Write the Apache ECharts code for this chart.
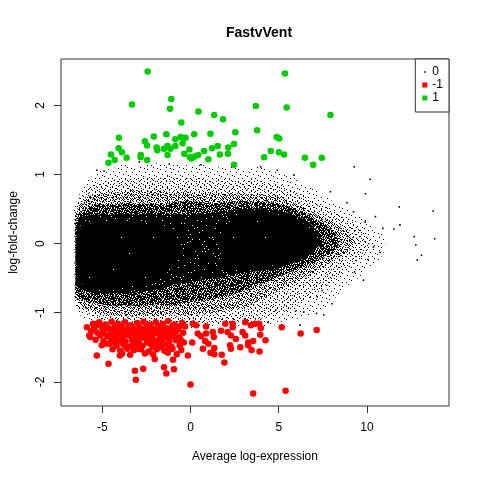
<!DOCTYPE html>
<html>
<head>
<meta charset="utf-8">
<script src="https://cdn.jsdelivr.net/npm/echarts@6/dist/echarts.min.js"></script>
<style>
  html, body { margin: 0; padding: 0; background: #fff; }
  #chart { width: 480px; height: 480px; }
</style>
</head>
<body>
<div id="chart"></div>
<script>
var xTicks = [-5, 0, 5, 10],
    yTicks = [-2, -1, 0, 1, 2];

// outlines of the black cloud (status 0), from the faint edge inwards
var cloudEdge = [[-6.55,-0.95],[-6.6,0.5],[-6.2,0.78],[-5.7,0.95],[-5.2,1.05],[-4.5,1.08],[-3.8,1.15],[-3,1.12],[-2.3,1.18],[-1.5,1.14],[-0.8,1.17],[0,1.12],[0.8,1.15],[1.6,1.1],[2.4,1.13],[3.2,1.08],[4,1.12],[4.8,1.06],[5.6,1.0],[6.4,0.86],[7.2,0.78],[8,0.62],[8.8,0.52],[9.6,0.4],[10.3,0.28],[10.9,0.12],[11.1,-0.05],[10.7,-0.25],[10,-0.38],[9.3,-0.55],[8.5,-0.7],[7.8,-0.9],[7,-1.0],[6.2,-1.08],[5.4,-1.12],[4.6,-1.18],[3.8,-1.2],[3,-1.2],[2,-1.22],[1,-1.2],[0,-1.22],[-1,-1.2],[-2,-1.22],[-3,-1.2],[-4,-1.2],[-5,-1.18],[-5.7,-1.12],[-6.2,-1.05]];
var cloudSparse = [[-6.57,-0.85],[-6.58,0.45],[-6.3,0.66],[-5.8,0.8],[-5.2,0.88],[-4.6,0.9],[-4,0.95],[-3.3,0.93],[-2.6,0.97],[-1.9,0.94],[-1.2,0.98],[-0.5,0.93],[0.3,0.96],[1.1,0.92],[1.9,0.95],[2.7,0.9],[3.5,0.93],[4.3,0.88],[5.1,0.85],[5.9,0.76],[6.7,0.66],[7.5,0.55],[8.3,0.44],[9.1,0.33],[9.8,0.2],[10.2,0.05],[10.0,-0.12],[9.4,-0.27],[8.6,-0.42],[7.8,-0.6],[7,-0.75],[6.2,-0.88],[5.4,-0.98],[4.6,-1.06],[3.8,-1.1],[3,-1.13],[2,-1.15],[1,-1.15],[0,-1.15],[-1,-1.15],[-2,-1.14],[-3,-1.14],[-4,-1.13],[-5,-1.1],[-5.7,-1.05],[-6.25,-0.97]];
var cloudMid = [[-6.55,-0.78],[-6.55,0.4],[-6.35,0.55],[-5.9,0.66],[-5.3,0.72],[-4.6,0.75],[-3.9,0.74],[-3.2,0.78],[-2.5,0.75],[-1.8,0.77],[-1.1,0.74],[-0.4,0.76],[0.3,0.73],[1,0.75],[1.8,0.72],[2.6,0.74],[3.4,0.71],[4.2,0.72],[5,0.68],[5.8,0.6],[6.6,0.5],[7.4,0.4],[8.2,0.3],[8.9,0.18],[9.3,0.05],[9.1,-0.08],[8.5,-0.2],[7.8,-0.3],[7,-0.42],[6.2,-0.52],[5.4,-0.62],[4.6,-0.74],[3.8,-0.84],[3,-0.92],[2.2,-0.97],[1.4,-1.0],[0.6,-1.02],[-0.2,-1.04],[-1,-1.02],[-1.8,-1.05],[-2.6,-1.03],[-3.4,-1.06],[-4.2,-1.04],[-5,-1.02],[-5.6,-0.98],[-6.1,-0.92]];
var cloudDense = [[-6.52,-0.7],[-6.52,0.3],[-6.3,0.45],[-5.8,0.54],[-5.1,0.57],[-4.4,0.56],[-3.7,0.59],[-3,0.57],[-2.3,0.58],[-1.6,0.56],[-0.9,0.6],[-0.2,0.62],[0.5,0.6],[1.2,0.58],[2,0.6],[2.8,0.62],[3.6,0.6],[4.4,0.61],[5.2,0.56],[6,0.5],[6.8,0.4],[7.6,0.28],[8.2,0.15],[8.5,0.02],[8.2,-0.1],[7.5,-0.2],[6.8,-0.3],[6,-0.38],[5.2,-0.46],[4.4,-0.55],[3.6,-0.62],[2.8,-0.7],[2,-0.76],[1.2,-0.8],[0.4,-0.84],[-0.4,-0.86],[-1.2,-0.9],[-2,-0.88],[-2.8,-0.91],[-3.6,-0.89],[-4.4,-0.9],[-5.2,-0.87],[-5.8,-0.84],[-6.3,-0.8]];
var cloudCore = [[-6.5,-0.6],[-6.5,0.22],[-6.3,0.38],[-5.6,0.42],[-4.8,0.41],[-4,0.43],[-3.2,0.42],[-2.4,0.43],[-1.6,0.41],[-0.8,0.42],[0,0.41],[0.8,0.43],[1.6,0.45],[2.4,0.49],[3.2,0.5],[4,0.51],[4.8,0.49],[5.6,0.44],[6.3,0.37],[6.9,0.27],[7.3,0.12],[7.3,-0.02],[6.9,-0.14],[6.2,-0.24],[5.4,-0.32],[4.6,-0.37],[3.8,-0.4],[3,-0.42],[2.2,-0.45],[1.4,-0.5],[0.6,-0.52],[-0.2,-0.56],[-1,-0.6],[-1.8,-0.66],[-2.6,-0.69],[-3.4,-0.72],[-4.2,-0.71],[-5,-0.73],[-5.7,-0.7],[-6.2,-0.67]];
var blobLeft = [[-6.45,-0.5],[-6.45,0.15],[-6.2,0.28],[-5.2,0.3],[-4,0.31],[-2.8,0.29],[-1.6,0.27],[-0.9,0.2],[-0.7,0],[-0.9,-0.3],[-1.6,-0.5],[-2.8,-0.6],[-4,-0.63],[-5.2,-0.64],[-6.1,-0.6]];
var blobRight = [[1.6,-0.1],[1.9,0.25],[2.6,0.4],[3.6,0.44],[4.6,0.44],[5.6,0.38],[6.5,0.28],[7.1,0.14],[7.2,0.0],[6.8,-0.12],[6,-0.22],[5,-0.3],[4,-0.34],[3,-0.36],[2.2,-0.3]];

// lone black points outside the cloud
var zeroPts = [[9.28,1.11],[10.18,0.93],[9.92,0.72],[7.93,0.75],[8.87,0.59],[10.48,0.39],[10.9,0.22],[11.53,0.21],[11.83,0.53],[13.75,0.47],[12.68,0.1],[12.77,-0.02],[13.84,0.07],[13.09,-0.17],[12.85,-0.24],[11.87,0.27],[10.74,-0.13],[10.05,-0.23],[9.8,-0.53],[9.3,-0.41],[7.46,-0.68],[7.18,-0.77],[8.02,-0.87],[7.55,-1.03],[7.14,-1.01],[6.42,-0.99],[6.2,-1.18],[5.95,-0.98],[4.83,-0.96],[4.39,-1.14],[3.98,1.11],[4.92,1.06],[5.86,0.99],[9.24,0.46],[9.9,0.31],[10.37,-0.05],[-5.31,1.06],[-5.69,0.68],[-4.9,1.05],[-2.9,1.18],[-1.2,1.15],[0.6,1.14],[2.5,1.12]];

// status -1 (down)
var downPts = [[-5.52,-1.16],[-5.18,-1.14],[-4.83,-1.17],[-4.47,-1.13],[-4.12,-1.16],[-3.71,-1.14],[-3.38,-1.18],[-3.02,-1.15],[-2.66,-1.13],[-2.31,-1.17],[-1.97,-1.14],[-1.58,-1.16],[-1.27,-1.12],[-0.92,-1.17],[-0.48,-1.15],
  [-5.46,-1.22],[-5.02,-1.21],[-4.62,-1.23],[-4.28,-1.2],[-3.88,-1.22],[-3.52,-1.19],[-3.18,-1.24],[-2.88,-1.21],[-2.49,-1.2],[-2.12,-1.23],[-1.79,-1.2],[-1.41,-1.22],[-1.08,-1.21],[-0.72,-1.24],[-0.31,-1.2],
  [-5.62,-1.27],[-5.28,-1.29],[-4.91,-1.26],[-4.41,-1.28],[-4.02,-1.27],[-3.63,-1.3],[-3.29,-1.26],[-2.79,-1.28],[-2.41,-1.27],[-1.92,-1.29],[-1.52,-1.26],[-1.19,-1.3],[-0.81,-1.27],[-0.42,-1.29],
  [-5.68,-1.35],[-5.12,-1.33],[-4.71,-1.34],[-4.22,-1.32],[-3.81,-1.36],[-3.47,-1.33],[-3.08,-1.35],[-2.62,-1.32],[-2.18,-1.34],[-1.71,-1.33],[-1.33,-1.36],[-0.98,-1.33],[-0.62,-1.35],
  [-5.38,-1.39],[-4.93,-1.41],[-4.52,-1.38],[-4.08,-1.4],[-3.68,-1.42],[-3.31,-1.39],[-2.92,-1.41],[-2.52,-1.38],[-2.02,-1.42],[-1.62,-1.39],[-1.21,-1.41],[-0.83,-1.4],[-0.38,-1.43],
  [-5.03,-1.47],[-4.61,-1.45],[-4.19,-1.48],[-3.79,-1.46],[-3.48,-1.49],[-3.01,-1.46],[-2.71,-1.48],[-2.28,-1.45],[-1.83,-1.47],[-1.42,-1.46],[-1.09,-1.49],[-0.61,-1.47],
  [-4.42,-1.53],[-3.98,-1.55],[-3.58,-1.52],[-3.21,-1.54],[-2.81,-1.53],[-2.38,-1.56],[-1.91,-1.53],[-1.48,-1.55],[-1.02,-1.52],[-0.52,-1.54],
  [-3.88,-1.59],[-3.42,-1.61],[-2.58,-1.59],[-2.12,-1.6],[-1.29,-1.58],[-0.78,-1.6],
  [-4.35,-1.24],[-3.95,-1.31],[-3.58,-1.25],[-3.15,-1.3],[-2.75,-1.24],[-2.35,-1.31],[-1.95,-1.25],[-1.65,-1.3],[-1.35,-1.25],[-3.85,-1.44],[-3.25,-1.45],[-2.45,-1.43],[-1.75,-1.43],[-1.25,-1.34],
  [-5.35,-1.18],[-4.98,-1.3],[-4.75,-1.2],[-4.55,-1.31],[-4.25,-1.36],[-3.98,-1.19],[-3.75,-1.28],[-3.45,-1.22],[-3.22,-1.4],[-2.98,-1.27],[-2.78,-1.36],[-2.55,-1.24],[-2.25,-1.38],[-2.05,-1.3],[-1.88,-1.4],[-1.68,-1.22],[-1.45,-1.32],[-1.15,-1.24],[-0.88,-1.36],[-0.65,-1.2],[-0.55,-1.4],[-4.85,-1.45],[-4.35,-1.43],[-3.65,-1.5],[-2.95,-1.52],[-2.15,-1.5],[-1.65,-1.5],[-1.2,-1.53],
  [-5.87,-1.21],[-5.74,-1.33],[-5.31,-1.62],[-4.65,-1.74],[-4.0,-1.62],[-3.15,-1.84],[-3.1,-1.97],[-2.68,-1.81],[-2.03,-1.67],[-1.5,-1.79],[-1.37,-1.88],[-0.94,-1.82],[-0.99,-1.68],[0.0,-2.04],[-0.15,-1.62],
  [0.13,-1.16],[0.32,-1.18],[0.41,-1.3],[0.6,-1.34],[0.88,-1.2],[0.88,-1.3],[0.83,-1.41],[1.01,-1.45],[1.26,-1.28],[1.32,-1.35],[0.1,-1.43],[0.7,-1.52],[1.35,-1.51],[1.13,-1.58],[1.35,-1.6],[1.77,-1.61],[1.92,-1.72],[1.73,-1.26],[1.97,-1.16],[2.1,-1.28],[2.39,-1.16],[2.39,-1.21],[2.29,-1.33],[2.57,-1.38],[2.24,-1.47],[2.29,-1.52],[2.82,-1.5],[2.95,-1.28],[3.1,-1.33],[3.1,-1.14],[3.42,-1.18],[3.65,-1.16],[3.89,-1.16],[3.98,-1.22],[3.95,-1.32],[3.27,-1.43],[3.55,-1.41],[3.27,-1.47],[4.25,-1.4],[3.46,-1.54],[3.91,-1.56],[5.17,-1.21],[6.24,-1.3],[7.15,-1.25],[3.55,-2.17],[5.39,-2.13]];

// status 1 (up)
var upPts = [[-2.43,2.49],[-3.32,2.01],[-1.09,2.09],[-1.16,1.95],[0.45,1.91],[1.34,1.86],[1.84,1.8],[-0.52,1.75],[2.54,1.61],[-4.06,1.53],[-2.59,1.48],[-2.08,1.55],[-1.37,1.58],[-0.86,1.51],[-0.56,1.54],[-0.28,1.53],[-0.45,1.45],[0.21,1.58],[1.13,1.59],[-2.46,1.42],[-4.07,1.38],[-3.89,1.32],[-4.51,1.29],[-4.3,1.21],[-4.65,1.17],[-3.62,1.24],[-2.82,1.28],[-2.83,1.25],[-2.46,1.21],[-1.92,1.39],[-1.88,1.35],[-1.5,1.37],[-1.3,1.41],[-1.14,1.37],[-1.3,1.28],[-0.86,1.41],[-0.35,1.3],[-0.06,1.36],[-0.03,1.25],[0.06,1.23],[0.23,1.26],[0.43,1.28],[0.77,1.34],[1.01,1.22],[1.22,1.38],[1.54,1.41],[1.66,1.29],[2.14,1.39],[2.12,1.3],[2.46,1.44],[2.46,1.14],
  [5.35,2.46],[3.7,1.99],[5.45,1.97],[7.93,1.86],[3.77,1.64],[4.88,1.54],[5.03,1.52],[4.55,1.34],[5.01,1.32],[5.3,1.29],[4.17,1.25],[6.48,1.24],[7.44,1.24],[6.95,1.14]];

var FONT = '"Liberation Sans", Arial, sans-serif';

// pixel masks for the speckled fill of the cloud ('#' = black pixel)
function makeTile(rows) {
    var c = document.createElement('canvas');
    c.width = rows[0].length;
    c.height = rows.length;
    var ctx = c.getContext('2d');
    ctx.fillStyle = '#000';
    rows.forEach(function(r, y) {
        for (var x = 0; x < r.length; x++) if (r[x] === '#') ctx.fillRect(x, y, 1, 1);
    });
    return { image: c, repeat: 'repeat' };
}
var tiles = [
    makeTile(["....#........", ".............", ".........#...", "..#..........", ".............",
              "......#......", "...........#.", "#............", ".............", "....#...#....",
              ".............", "..........#..", ".#..........."]),
    makeTile(["..#........", "......#....", "#..........", "....#....#.", "...........",
              ".#.....#...", "...........", "....#....#.", "#..........", "......#....", "..#.....#.."]),
    makeTile(["#...#....", "..#..#.#.", "....#.#..", ".#.....#.", "...#.#...",
              "#......#.", "..#.#...#", ".....#.#.", ".#.#....#"]),
    makeTile(["##.#.##.", ".###.#.#", "#.#.##.#", "##..#.##", ".#.##.#.",
              "#.##..##", "##.#.#.#", ".#.##.#."]),
    makeTile(["#######", "###.###", "#######", "#.#####", "#####.#", "#######", "##.###."]),
    makeTile(["########", "###.####", "########", "######.#", "########", "#.######", "########", "####.###"])
];

function cloudSeries(points, tile) {
    return {
        type: 'custom',
        silent: true,
        data: points,
        renderItem: function(params, api) {
            if (params.dataIndex !== 0) return null;
            return {
                type: 'polygon',
                shape: { points: points.map(function(p) { return api.coord(p); }) },
                style: { fill: tile }
            };
        }
    };
}

var chart = echarts.init(document.getElementById('chart'), null, { renderer: 'canvas' });
chart.setOption({
    animation: false,
    backgroundColor: '#fff',
    title: {
        text: 'FastvVent', left: 254, top: 21, textAlign: 'center',
        textStyle: { fontFamily: FONT, fontSize: 14, fontWeight: 'bold', color: '#000' }
    },
    legend: {
        orient: 'vertical', right: 31, top: 59,
        data: [
            { name: '0', icon: 'path://M0,0h0.05v0.05h-0.05z M3.5,3.5h3v3h-3z M9.95,9.95h0.05v0.05h-0.05z' },
            { name: '-1', icon: 'rect' },
            { name: '1', icon: 'rect' }
        ],
        itemWidth: 5, itemHeight: 5, itemGap: 1,
        padding: [7, 6, 8, 7],
        borderColor: '#333', borderWidth: 1, borderRadius: 0,
        backgroundColor: '#fff',
        textStyle: { fontFamily: FONT, fontSize: 12, color: '#000' }
    },
    grid: { left: 59, top: 59, right: 31, bottom: 74, show: true, borderColor: '#333', borderWidth: 1 },
    xAxis: {
        type: 'value', min: -7.34, max: 14.65,
        name: 'Average log-expression', nameLocation: 'middle', nameGap: 45,
        nameTextStyle: { fontFamily: FONT, fontSize: 12, color: '#000' },
        axisLine: { show: false, onZero: false },
        axisTick: { show: true, length: 7, customValues: xTicks, lineStyle: { color: '#333' } },
        axisLabel: { customValues: xTicks, margin: 16, fontFamily: FONT, fontSize: 12, color: '#000' },
        splitLine: { show: false }
    },
    yAxis: {
        type: 'value', min: -2.35, max: 2.67,
        name: 'log-fold-change', nameLocation: 'middle', nameGap: 41,
        nameTextStyle: { fontFamily: FONT, fontSize: 12, color: '#000' },
        axisLine: { show: false, onZero: false },
        axisTick: { show: true, length: 7, customValues: yTicks, lineStyle: { color: '#333' } },
        axisLabel: { customValues: yTicks, rotate: 90, margin: 14, fontFamily: FONT, fontSize: 12, color: '#000' },
        splitLine: { show: false }
    },
    series: [
        cloudSeries(cloudEdge, tiles[0]),
        cloudSeries(cloudSparse, tiles[1]),
        cloudSeries(cloudMid, tiles[2]),
        cloudSeries(cloudDense, tiles[3]),
        cloudSeries(cloudCore, tiles[4]),
        cloudSeries(blobLeft, tiles[5]),
        cloudSeries(blobRight, tiles[5]),
        { name: '0', type: 'scatter', data: zeroPts, symbol: 'rect', symbolSize: 1.6, itemStyle: { color: '#000', opacity: 1 } },
        { name: '-1', type: 'scatter', data: downPts, symbol: 'circle', symbolSize: 6.5, itemStyle: { color: '#ff0000', opacity: 1 } },
        { name: '1', type: 'scatter', data: upPts, symbol: 'circle', symbolSize: 6.5, itemStyle: { color: '#00cd00', opacity: 1 } }
    ]
});
</script>
</body>
</html>
